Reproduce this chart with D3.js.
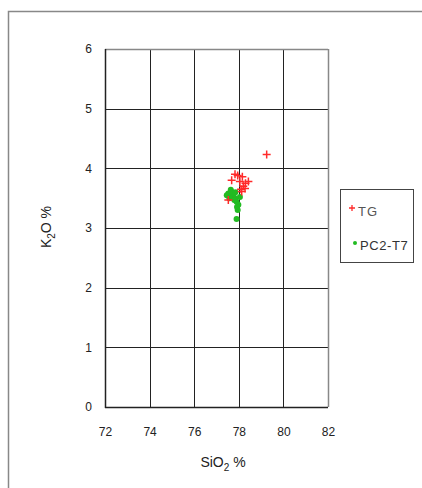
<!DOCTYPE html>
<html><head><meta charset="utf-8">
<script src="https://cdn.jsdelivr.net/npm/d3@7"></script>
<style>body{margin:0;background:#fff}svg{display:block}</style>
</head><body>
<script>
const xTicks = [72, 74, 76, 78, 80, 82];
const yTicks = [0, 1, 2, 3, 4, 5, 6];
const tgSiO2 = [79.25, 77.83, 77.68, 78.16, 78.43, 78.20, 78.28, 78.05, 77.53, 78.13, 77.95, 78.30, 78.10];
const tgK2O  = [4.23, 3.90, 3.80, 3.86, 3.78, 3.70, 3.66, 3.78, 3.47, 3.61, 3.88, 3.75, 3.65];
const pcSiO2 = [77.53, 77.64, 77.75, 77.83, 77.90, 77.98, 77.95, 77.90, 78.05, 77.46, 77.70, 77.60, 77.85, 77.92, 77.80, 77.58];
const pcK2O  = [3.58, 3.64, 3.55, 3.50, 3.44, 3.39, 3.30, 3.15, 3.52, 3.55, 3.60, 3.52, 3.60, 3.35, 3.47, 3.50];
const legendLabels = ["TG", "PC2-T7"];

const W = 422, H = 488;
const svg = d3.select("body").append("svg").attr("width", W).attr("height", H);
const font = "'Liberation Sans', Arial, sans-serif";

// outer frame (clipped)
svg.append("path").attr("d", `M8.5,${H} V11.5 H${W}`).attr("fill", "none").attr("stroke", "#888").attr("stroke-width", 1.5);

const x = d3.scaleLinear().domain([72, 82]).range([105, 328]);
const y = d3.scaleLinear().domain([0, 6]).range([407, 49]);

// gridlines
const g = svg.append("g");
g.selectAll(".vx").data(xTicks.slice(1, -1)).join("line")
  .attr("x1", d => Math.round(x(d)) + 0.5).attr("x2", d => Math.round(x(d)) + 0.5)
  .attr("y1", y(6)).attr("y2", y(0)).attr("stroke", "#222").attr("stroke-width", 1);
g.selectAll(".hy").data(yTicks.slice(1, -1)).join("line")
  .attr("y1", d => Math.round(y(d)) + 0.5).attr("y2", d => Math.round(y(d)) + 0.5)
  .attr("x1", x(72)).attr("x2", x(82)).attr("stroke", "#222").attr("stroke-width", 1);
// frame
svg.append("line").attr("x1", x(72)).attr("x2", x(82)).attr("y1", y(6) + 0.5).attr("y2", y(6) + 0.5).attr("stroke", "#888").attr("stroke-width", 1.5);
svg.append("line").attr("x1", x(82) + 0.5).attr("x2", x(82) + 0.5).attr("y1", y(6)).attr("y2", y(0)).attr("stroke", "#888").attr("stroke-width", 1.5);
svg.append("line").attr("x1", x(72) + 0.5).attr("x2", x(72) + 0.5).attr("y1", y(6)).attr("y2", y(0) + 1).attr("stroke", "#222").attr("stroke-width", 1.5);
svg.append("line").attr("x1", x(72)).attr("x2", x(82)).attr("y1", y(0) + 0.5).attr("y2", y(0) + 0.5).attr("stroke", "#222").attr("stroke-width", 1.5);

// axes labels via d3 axes (no lines)
const xAxis = svg.append("g").attr("transform", `translate(0,${y(0)})`)
  .call(d3.axisBottom(x).tickValues(xTicks).tickFormat(d3.format("d")).tickSize(0).tickPadding(20));
const yAxis = svg.append("g").attr("transform", `translate(${x(72)},0)`)
  .call(d3.axisLeft(y).tickValues(yTicks).tickFormat(d3.format("d")).tickSize(0).tickPadding(13));
[xAxis, yAxis].forEach(a => {
  a.select(".domain").remove();
  a.selectAll("text").attr("font-family", font).attr("font-size", 12).attr("fill", "#222");
});

// axis titles
const xt = svg.append("text").attr("x", 223).attr("y", 467).attr("text-anchor", "middle")
  .attr("font-family", font).attr("font-size", 14).attr("fill", "#222");
xt.append("tspan").text("SiO");
xt.append("tspan").text("2").attr("font-size", 10).attr("dy", 4);
xt.append("tspan").text(" %").attr("dy", -4);
const yt = svg.append("text").attr("transform", "translate(51,227) rotate(-90)").attr("text-anchor", "middle")
  .attr("font-family", font).attr("font-size", 14).attr("fill", "#222");
yt.append("tspan").text("K");
yt.append("tspan").text("2").attr("font-size", 10).attr("dy", 4);
yt.append("tspan").text("O %").attr("dy", -4);

// data
const plus = (sx, sy, s) => `M${sx - s},${sy}H${sx + s}M${sx},${sy - s}V${sy + s}`;
svg.append("g").selectAll("circle").data(pcSiO2).join("circle")
  .attr("cx", d => x(d)).attr("cy", (d, i) => y(pcK2O[i])).attr("r", 3).attr("fill", "#22bb22");
svg.append("g").selectAll("path").data(tgSiO2).join("path")
  .attr("d", (d, i) => plus(x(d), y(tgK2O[i]), 4)).attr("stroke", "#ff2a2a").attr("stroke-width", 1.5).attr("fill", "none");

// legend
const lg = svg.append("g");
lg.append("rect").attr("x", 340.5).attr("y", 189.5).attr("width", 73).attr("height", 73)
  .attr("fill", "#fff").attr("stroke", "#444").attr("stroke-width", 1);
lg.append("path").attr("d", plus(352, 208, 3)).attr("stroke", "#ff2a2a").attr("stroke-width", 1.3).attr("fill", "none");
lg.append("text").attr("x", 358).attr("y", 216).text(legendLabels[0]).attr("font-family", font).attr("font-size", 13).attr("letter-spacing", 1).attr("fill", "#555");
lg.append("circle").attr("cx", 355).attr("cy", 243).attr("r", 2).attr("fill", "#22bb22");
lg.append("text").attr("x", 360).attr("y", 250).text(legendLabels[1]).attr("font-family", font).attr("font-size", 13).attr("letter-spacing", 0.6).attr("fill", "#333");
</script>
</body></html>
